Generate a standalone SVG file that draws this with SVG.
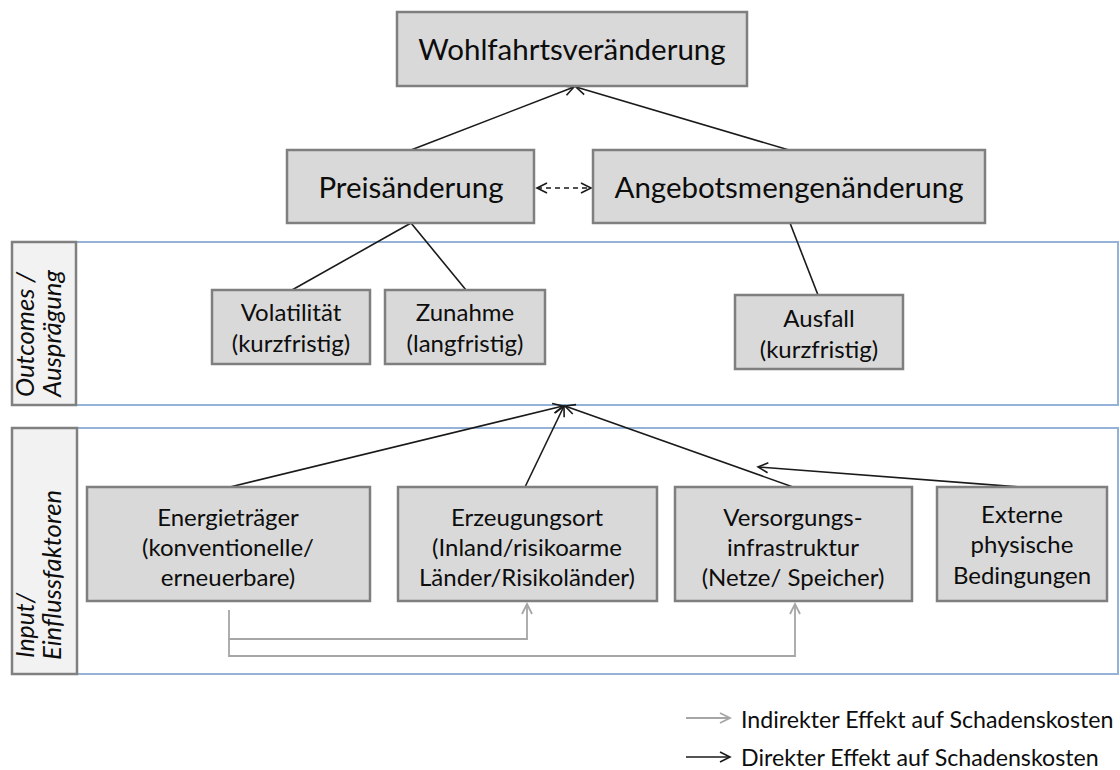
<svg xmlns="http://www.w3.org/2000/svg" width="1120" height="770" viewBox="0 0 1120 770">
<style>
.box{fill:#d9d9d9;stroke:#7f7f7f;stroke-width:2.5}
.band{fill:none;stroke:#95b3d7;stroke-width:2}
.lbl{fill:#f2f2f2;stroke:#808080;stroke-width:2.5}
.t{font-family:Lato,"Liberation Sans",sans-serif;fill:#0d0d0d;text-anchor:middle}
.big{font-size:29.5px}
.sm{font-size:24px}
.side{font-family:Lato,"Liberation Sans",sans-serif;font-style:italic;font-size:26px;fill:#0d0d0d}
.leg{font-family:Lato,"Liberation Sans",sans-serif;font-size:23.2px;fill:#0d0d0d}
.c{fill:none;stroke:#1a1a1a;stroke-width:1.6}
.g{fill:none;stroke:#a6a6a6;stroke-width:1.8}
</style>
<defs>
<marker id="ab" markerUnits="userSpaceOnUse" markerWidth="14" markerHeight="14" refX="11" refY="6" orient="auto-start-reverse" viewBox="0 0 14 12">
<path d="M1,1 L11,6 L1,11" fill="none" stroke="#1a1a1a" stroke-width="1.6"/>
</marker>
<marker id="ag" markerUnits="userSpaceOnUse" markerWidth="14" markerHeight="14" refX="11" refY="6" orient="auto" viewBox="0 0 14 12">
<path d="M1,1 L11,6 L1,11" fill="none" stroke="#a6a6a6" stroke-width="1.8"/>
</marker>
</defs>

<g id="band-outcomes">
<rect class="band" x="12" y="242" width="1106" height="163"/>
<rect class="lbl" x="12" y="242" width="64" height="163"/>
<text class="side" transform="translate(34,397) rotate(-90)" textLength="125" lengthAdjust="spacingAndGlyphs">Outcomes /</text>
<text class="side" transform="translate(61,397) rotate(-90)" textLength="127" lengthAdjust="spacingAndGlyphs">Ausprägung</text>
</g>
<g id="band-input">
<rect class="band" x="12" y="428" width="1106" height="246"/>
<rect class="lbl" x="12" y="428" width="65" height="246"/>
<text class="side" transform="translate(34,658) rotate(-90)" textLength="65" lengthAdjust="spacingAndGlyphs">Input/</text>
<text class="side" transform="translate(61,660) rotate(-90)" textLength="170" lengthAdjust="spacingAndGlyphs">Einflussfaktoren</text>
</g>

<g id="connectors">
<line class="c" x1="411" y1="150" x2="574" y2="87" marker-end="url(#ab)"/>
<line class="c" x1="789" y1="150" x2="576" y2="87" marker-end="url(#ab)"/>
<line class="c" x1="537" y1="188" x2="591" y2="188" stroke-dasharray="5,4" marker-start="url(#ab)" marker-end="url(#ab)"/>
<line class="c" x1="411" y1="223" x2="292" y2="290"/>
<line class="c" x1="411" y1="223" x2="466" y2="290"/>
<line class="c" x1="790" y1="223" x2="818" y2="295"/>
<line class="c" x1="230" y1="487" x2="563" y2="406" marker-end="url(#ab)"/>
<line class="c" x1="525" y1="487" x2="564" y2="406" marker-end="url(#ab)"/>
<line class="c" x1="793" y1="487" x2="565" y2="406" marker-end="url(#ab)"/>
<line class="c" x1="1020" y1="487" x2="758" y2="467" marker-end="url(#ab)"/>
<polyline class="g" points="229,610 229,639 527,639 527,604" marker-end="url(#ag)"/>
<polyline class="g" points="229,639 229,656 795,656 795,604" marker-end="url(#ag)"/>
</g>

<g id="n-wohlfahrt"><rect class="box" x="397" y="12" width="350" height="74"/><text class="t big" x="572" y="60">Wohlfahrtsveränderung</text></g>
<g id="n-preis"><rect class="box" x="287" y="150" width="247" height="73"/><text class="t big" x="411" y="198">Preisänderung</text></g>
<g id="n-angebot"><rect class="box" x="593" y="150" width="392" height="73"/><text class="t big" x="789" y="198">Angebotsmengenänderung</text></g>
<g id="n-volatilitaet"><rect class="box" x="212" y="290" width="158" height="74"/><text class="t sm" x="291" y="321">Volatilität</text><text class="t sm" x="291" y="352">(kurzfristig)</text></g>
<g id="n-zunahme"><rect class="box" x="385" y="290" width="160" height="74"/><text class="t sm" x="465" y="321">Zunahme</text><text class="t sm" x="465" y="352">(langfristig)</text></g>
<g id="n-ausfall"><rect class="box" x="735" y="295" width="168" height="74"/><text class="t sm" x="819" y="327">Ausfall</text><text class="t sm" x="819" y="358">(kurzfristig)</text></g>
<g id="n-energie"><rect class="box" x="87" y="487" width="283" height="114"/><text class="t sm" x="228" y="526">Energieträger</text><text class="t sm" x="228" y="556">(konventionelle/</text><text class="t sm" x="228" y="586">erneuerbare)</text></g>
<g id="n-erzeugung"><rect class="box" x="398" y="487" width="259" height="114"/><text class="t sm" x="527" y="526">Erzeugungsort</text><text class="t sm" x="527" y="556">(Inland/risikoarme</text><text class="t sm" x="527" y="586">Länder/Risikoländer)</text></g>
<g id="n-versorgung"><rect class="box" x="675" y="487" width="237" height="114"/><text class="t sm" x="793" y="526">Versorgungs-</text><text class="t sm" x="793" y="556">infrastruktur</text><text class="t sm" x="793" y="586">(Netze/ Speicher)</text></g>
<g id="n-extern"><rect class="box" x="937" y="487" width="170" height="114"/><text class="t sm" x="1022" y="523">Externe</text><text class="t sm" x="1022" y="553">physische</text><text class="t sm" x="1022" y="584">Bedingungen</text></g>

<g id="legend">
<line class="g" x1="686" y1="718" x2="730" y2="718" marker-end="url(#ag)"/>
<text class="leg" x="741" y="728">Indirekter Effekt auf Schadenskosten</text>
<line class="c" x1="686" y1="757" x2="730" y2="757" marker-end="url(#ab)"/>
<text class="leg" x="741" y="766">Direkter Effekt auf Schadenskosten</text>
</g>
</svg>
